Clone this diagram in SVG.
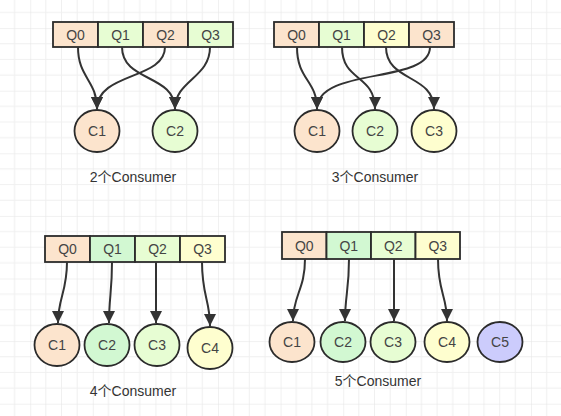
<svg xmlns="http://www.w3.org/2000/svg" width="561" height="416" viewBox="0 0 561 416">
<defs>
<pattern id="grid" width="62.6" height="62.6" patternUnits="userSpaceOnUse" patternTransform="translate(30.2,28.1)">
<path d="M15.65,0V62.6M31.3,0V62.6M46.95,0V62.6M0,15.65H62.6M0,31.3H62.6M0,46.95H62.6" stroke="#f0f0f0" stroke-width="1" fill="none"/>
<path d="M0,0V62.6M0,0H62.6" stroke="#e4e4e4" stroke-width="1" fill="none"/>
</pattern>
<marker id="arr" markerUnits="userSpaceOnUse" markerWidth="13" markerHeight="13" viewBox="0 0 13 13" refX="12" refY="6.5" orient="auto">
<path d="M0,0.5L12,6.5L0,12.5Z" fill="#333"/>
</marker>
</defs>
<style>
.cell{stroke:#2b2b2b;stroke-width:1.8}
.node{stroke:#2b2b2b;stroke-width:1.8}
.t{font-family:"Liberation Sans",Arial,sans-serif;font-size:14px;fill:#444;text-anchor:middle;dominant-baseline:central}
.lbl{font-family:"Liberation Sans","Noto Sans CJK SC",sans-serif;font-size:14px;fill:#333;text-anchor:middle;dominant-baseline:central}
.e{fill:none;stroke:#333;stroke-width:2;marker-end:url(#arr)}
.or{fill:#fce4cd}.lg{fill:#e7fdd3}.gr{fill:#d2f8d2}.ye{fill:#fefecf}.pu{fill:#ccccfc}
</style>
<rect width="561" height="416" fill="#fff"/>
<rect width="561" height="416" fill="url(#grid)"/>

<!-- Diagram 1 -->
<g id="d1-queue">
<rect class="cell or" x="53" y="22" width="45" height="25"/><text class="t" x="75.5" y="34.5">Q0</text>
<rect class="cell lg" x="98" y="22" width="45" height="25"/><text class="t" x="120.5" y="34.5">Q1</text>
<rect class="cell or" x="143" y="22" width="45" height="25"/><text class="t" x="165.5" y="34.5">Q2</text>
<rect class="cell lg" x="188" y="22" width="45" height="25"/><text class="t" x="210.5" y="34.5">Q3</text>
</g>
<g id="d1-c1"><ellipse class="node or" cx="97" cy="131" rx="22.5" ry="21"/><text class="t" x="97" y="131">C1</text></g>
<g id="d1-c2"><ellipse class="node lg" cx="175" cy="131" rx="22.5" ry="21"/><text class="t" x="175" y="131">C2</text></g>
<text class="lbl" x="133" y="177">2个Consumer</text>

<!-- Diagram 2 -->
<g id="d2-queue">
<rect class="cell or" x="274" y="22" width="45" height="25"/><text class="t" x="296.5" y="34.5">Q0</text>
<rect class="cell lg" x="319" y="22" width="45" height="25"/><text class="t" x="341.5" y="34.5">Q1</text>
<rect class="cell ye" x="364" y="22" width="45" height="25"/><text class="t" x="386.5" y="34.5">Q2</text>
<rect class="cell or" x="409" y="22" width="45" height="25"/><text class="t" x="431.5" y="34.5">Q3</text>
</g>
<g id="d2-c1"><ellipse class="node or" cx="317" cy="131" rx="22.5" ry="21"/><text class="t" x="317" y="131">C1</text></g>
<g id="d2-c2"><ellipse class="node lg" cx="375" cy="131" rx="22.5" ry="21"/><text class="t" x="375" y="131">C2</text></g>
<g id="d2-c3"><ellipse class="node ye" cx="434" cy="131" rx="22.5" ry="21"/><text class="t" x="434" y="131">C3</text></g>
<text class="lbl" x="375" y="177">3个Consumer</text>

<!-- Diagram 3 -->
<g id="d3-queue">
<rect class="cell or" x="45" y="236" width="45" height="26"/><text class="t" x="67.5" y="249">Q0</text>
<rect class="cell gr" x="90" y="236" width="45" height="26"/><text class="t" x="112.5" y="249">Q1</text>
<rect class="cell lg" x="135" y="236" width="45" height="26"/><text class="t" x="157.5" y="249">Q2</text>
<rect class="cell ye" x="180" y="236" width="45" height="26"/><text class="t" x="202.5" y="249">Q3</text>
</g>
<g id="d3-c1"><ellipse class="node or" cx="57" cy="345" rx="22.5" ry="21"/><text class="t" x="57" y="345">C1</text></g>
<g id="d3-c2"><ellipse class="node gr" cx="107" cy="345" rx="22.5" ry="21"/><text class="t" x="107" y="345">C2</text></g>
<g id="d3-c3"><ellipse class="node lg" cx="157" cy="345" rx="22.5" ry="21"/><text class="t" x="157" y="345">C3</text></g>
<g id="d3-c4"><ellipse class="node ye" cx="210" cy="348" rx="22.5" ry="21"/><text class="t" x="210" y="348">C4</text></g>
<text class="lbl" x="133" y="391">4个Consumer</text>

<!-- Diagram 4 -->
<g id="d4-queue">
<rect class="cell or" x="282" y="232" width="44.5" height="27"/><text class="t" x="304.25" y="245.5">Q0</text>
<rect class="cell gr" x="326.5" y="232" width="44.5" height="27"/><text class="t" x="348.75" y="245.5">Q1</text>
<rect class="cell lg" x="371" y="232" width="44.5" height="27"/><text class="t" x="393.25" y="245.5">Q2</text>
<rect class="cell ye" x="415.5" y="232" width="44.5" height="27"/><text class="t" x="437.75" y="245.5">Q3</text>
</g>
<g id="d4-c1"><ellipse class="node or" cx="292" cy="342" rx="22.5" ry="20"/><text class="t" x="292" y="342">C1</text></g>
<g id="d4-c2"><ellipse class="node gr" cx="343" cy="342" rx="22.5" ry="20"/><text class="t" x="343" y="342">C2</text></g>
<g id="d4-c3"><ellipse class="node lg" cx="393" cy="342" rx="22.5" ry="20"/><text class="t" x="393" y="342">C3</text></g>
<g id="d4-c4"><ellipse class="node ye" cx="447" cy="342" rx="22.5" ry="20"/><text class="t" x="447" y="342">C4</text></g>
<g id="d4-c5"><ellipse class="node pu" cx="500" cy="342" rx="22.5" ry="20"/><text class="t" x="500" y="342">C5</text></g>
<text class="lbl" x="378" y="381">5个Consumer</text>

<g id="connectors">
<path class="e" d="M78,47 C78,78 97,80 97,109"/>
<path class="e" d="M165,47 C165,80 97,72 97,109"/>
<path class="e" d="M122,47 C122,82 175,74 175,109"/>
<path class="e" d="M210,47 C210,78 175,80 175,109"/>

<path class="e" d="M297,47 C297,80 317,80 317,109"/>
<path class="e" d="M342,47 C342,82 375,74 375,109"/>
<path class="e" d="M386,47 C386,82 434,74 434,109"/>
<path class="e" d="M430,47 C430,85 317,66 317,109"/>

<path class="e" d="M67,262 C67,292 58,298 58,323"/>
<path class="e" d="M112,262 C112,292 109,298 109,323"/>
<path class="e" d="M156,262 L156,323"/>
<path class="e" d="M202,262 C202,296 210,300 210,326"/>

<path class="e" d="M305,259 C305,290 293,295 293,321"/>
<path class="e" d="M349,259 C349,290 345,296 345,321"/>
<path class="e" d="M394,259 L394,321"/>
<path class="e" d="M438,259 C438,292 447,296 447,321"/>
</g>
</svg>
